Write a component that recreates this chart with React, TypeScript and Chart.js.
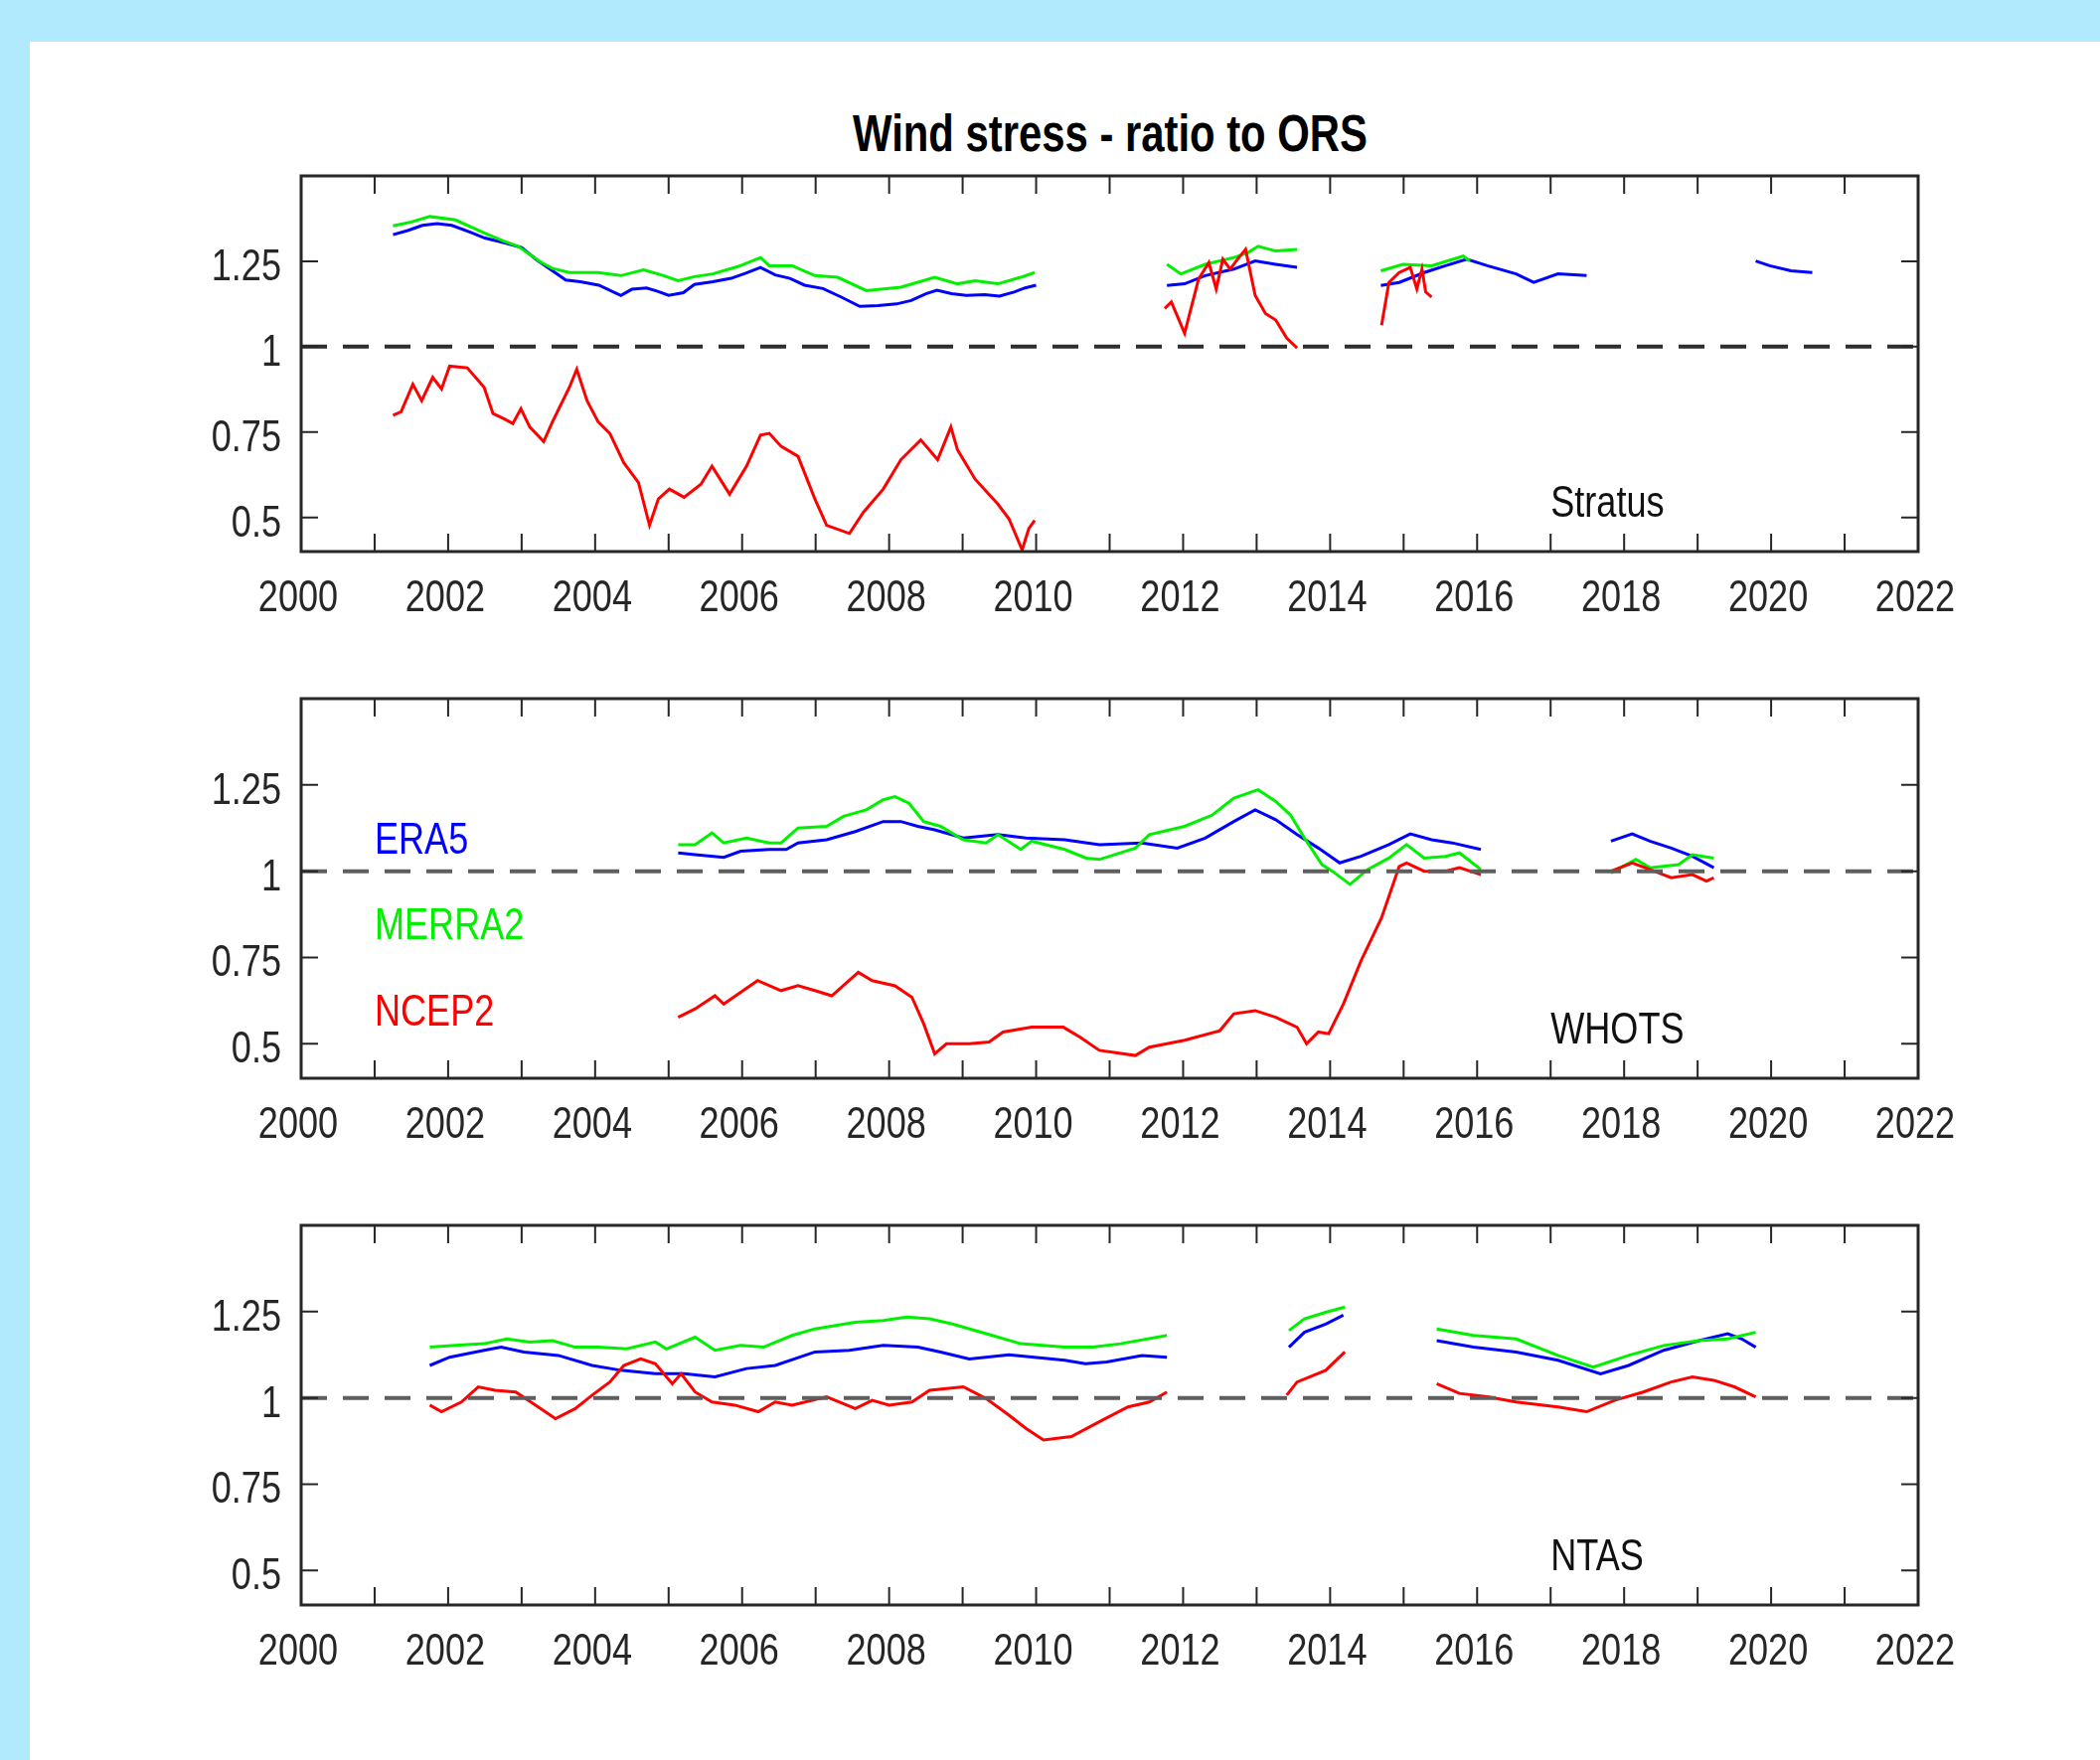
import React, { useEffect, useRef } from "react";
import { Chart, registerables } from "chart.js";

Chart.register(...registerables);

// ---------------- data ----------------
const TITLE = "Wind stress - ratio to ORS";
const SERIES_NAMES = ["ERA5", "MERRA2", "NCEP2"];
const PANEL_NAMES = ["Stratus", "WHOTS", "NTAS"];
const X_TICK_YEARS = Array.from({ length: 23 }, (_, i) => 2000 + i);
const X_LABEL_YEARS = [2000, 2002, 2004, 2006, 2008, 2010, 2012, 2014, 2016, 2018, 2020, 2022];
const Y_TICKS = [0.5, 0.75, 1, 1.25];
const Y_TICK_LABELS = ["0.5", "0.75", "1", "1.25"];
const REF_LINE = [[2000, 1], [2022, 1]];

type Seg = (number[] | null)[];

const STRATUS_ERA5: Seg = [
  [2001.25, 1.328], [2001.45, 1.34], [2001.65, 1.355], [2001.85, 1.36], [2002.05, 1.355], [2002.3, 1.335], [2002.5, 1.318],
  [2002.75, 1.305], [2003.0, 1.29], [2003.2, 1.255], [2003.4, 1.225], [2003.6, 1.195], [2003.8, 1.19], [2004.05, 1.18],
  [2004.2, 1.165], [2004.35, 1.15], [2004.5, 1.168], [2004.7, 1.172], [2004.85, 1.162], [2005.0, 1.15], [2005.2, 1.158],
  [2005.35, 1.182], [2005.6, 1.19], [2005.85, 1.2], [2006.05, 1.215], [2006.25, 1.232], [2006.45, 1.21], [2006.65, 1.2],
  [2006.85, 1.18], [2007.1, 1.17], [2007.35, 1.145], [2007.6, 1.118], [2007.85, 1.12], [2008.1, 1.125], [2008.3, 1.135],
  [2008.5, 1.155], [2008.65, 1.165], [2008.85, 1.155], [2009.05, 1.15], [2009.3, 1.152], [2009.5, 1.148], [2009.7, 1.16],
  [2009.85, 1.172], [2010.0, 1.18],
  null,
  [2011.78, 1.179], [2012.02, 1.184], [2012.3, 1.208], [2012.69, 1.227], [2012.98, 1.251], [2013.26, 1.241], [2013.55, 1.232],
  null,
  [2014.69, 1.179], [2014.94, 1.188], [2015.28, 1.217], [2015.57, 1.237], [2015.86, 1.256], [2016.14, 1.237], [2016.53, 1.213],
  [2016.77, 1.188], [2017.1, 1.213], [2017.49, 1.208],
  null,
  [2019.79, 1.251], [2019.98, 1.237], [2020.27, 1.222], [2020.56, 1.217],
];

const STRATUS_MERRA2: Seg = [
  [2001.25, 1.354], [2001.5, 1.365], [2001.75, 1.381], [2002.1, 1.371], [2002.49, 1.333], [2002.75, 1.31], [2002.95, 1.294],
  [2003.27, 1.246], [2003.42, 1.229], [2003.65, 1.217], [2004.04, 1.217], [2004.35, 1.208], [2004.66, 1.225], [2004.9, 1.21],
  [2005.13, 1.193], [2005.35, 1.205], [2005.6, 1.213], [2005.95, 1.235], [2006.25, 1.261], [2006.37, 1.237], [2006.68, 1.237],
  [2006.99, 1.208], [2007.3, 1.203], [2007.69, 1.164], [2008.16, 1.174], [2008.62, 1.203], [2008.93, 1.184], [2009.17, 1.193],
  [2009.48, 1.184], [2009.79, 1.203], [2009.98, 1.217],
  null,
  [2011.78, 1.241], [2011.97, 1.213], [2012.3, 1.241], [2012.69, 1.261], [2012.88, 1.275], [2013.02, 1.294], [2013.26, 1.28],
  [2013.55, 1.285],
  null,
  [2014.69, 1.222], [2014.99, 1.241], [2015.38, 1.237], [2015.81, 1.265], [2015.9, 1.251],
];

const STRATUS_NCEP2: Seg = [
  [2001.25, 0.799], [2001.36, 0.809], [2001.52, 0.89], [2001.64, 0.842], [2001.79, 0.91], [2001.91, 0.876], [2002.02, 0.943],
  [2002.26, 0.938], [2002.49, 0.881], [2002.61, 0.804], [2002.76, 0.789], [2002.88, 0.775], [2002.99, 0.818], [2003.11, 0.765],
  [2003.3, 0.722], [2003.42, 0.78], [2003.65, 0.881], [2003.75, 0.934], [2003.89, 0.842], [2004.04, 0.78], [2004.2, 0.746],
  [2004.39, 0.66], [2004.59, 0.602], [2004.74, 0.477], [2004.86, 0.554], [2005.01, 0.583], [2005.21, 0.559], [2005.44, 0.597],
  [2005.59, 0.65], [2005.83, 0.568], [2006.06, 0.65], [2006.25, 0.741], [2006.37, 0.746], [2006.53, 0.708], [2006.76, 0.679],
  [2006.99, 0.554], [2007.15, 0.477], [2007.46, 0.453], [2007.65, 0.515], [2007.92, 0.583], [2008.16, 0.669], [2008.43, 0.727],
  [2008.66, 0.669], [2008.84, 0.765], [2008.93, 0.698], [2009.17, 0.612], [2009.48, 0.539], [2009.63, 0.496], [2009.81, 0.405],
  [2009.9, 0.467], [2009.98, 0.491],
  null,
  [2011.75, 1.112], [2011.84, 1.131], [2012.02, 1.039], [2012.21, 1.198], [2012.35, 1.246], [2012.45, 1.169], [2012.54, 1.256],
  [2012.64, 1.227], [2012.74, 1.256], [2012.85, 1.285], [2012.98, 1.15], [2013.12, 1.097], [2013.26, 1.078], [2013.41, 1.025],
  [2013.55, 0.996],
  null,
  [2014.7, 1.063], [2014.8, 1.188], [2014.94, 1.217], [2015.09, 1.232], [2015.18, 1.169], [2015.25, 1.227], [2015.3, 1.16],
  [2015.38, 1.145],
];

const WHOTS_ERA5: Seg = [
  [2005.13, 1.053], [2005.36, 1.048], [2005.75, 1.04], [2005.98, 1.058], [2006.37, 1.063], [2006.6, 1.063], [2006.76, 1.082],
  [2007.15, 1.091], [2007.54, 1.115], [2007.92, 1.144], [2008.16, 1.144], [2008.39, 1.13], [2008.62, 1.12], [2009.01, 1.096],
  [2009.48, 1.106], [2009.86, 1.096], [2010.39, 1.091], [2010.86, 1.077], [2011.44, 1.082], [2011.92, 1.067], [2012.3, 1.096],
  [2012.69, 1.144], [2012.98, 1.178], [2013.26, 1.149], [2013.55, 1.106], [2013.84, 1.067], [2014.13, 1.024], [2014.42, 1.043],
  [2014.8, 1.077], [2015.09, 1.108], [2015.38, 1.091], [2015.66, 1.082], [2016.05, 1.063],
  null,
  [2017.82, 1.087], [2018.11, 1.108], [2018.35, 1.087], [2018.64, 1.067], [2018.93, 1.043], [2019.22, 1.01],
];

const WHOTS_MERRA2: Seg = [
  [2005.13, 1.077], [2005.36, 1.077], [2005.59, 1.111], [2005.75, 1.082], [2006.06, 1.096], [2006.37, 1.082], [2006.53, 1.082],
  [2006.76, 1.125], [2007.15, 1.13], [2007.38, 1.159], [2007.69, 1.178], [2007.92, 1.207], [2008.08, 1.216], [2008.27, 1.197],
  [2008.47, 1.144], [2008.7, 1.13], [2009.01, 1.091], [2009.32, 1.082], [2009.48, 1.106], [2009.79, 1.063], [2009.94, 1.087],
  [2010.39, 1.063], [2010.68, 1.038], [2010.86, 1.034], [2011.35, 1.067], [2011.54, 1.106], [2012.02, 1.13], [2012.4, 1.163],
  [2012.69, 1.212], [2013.02, 1.236], [2013.26, 1.202], [2013.46, 1.163], [2013.65, 1.096], [2013.89, 1.019], [2014.03, 1.0],
  [2014.27, 0.962], [2014.51, 1.005], [2014.8, 1.038], [2015.04, 1.077], [2015.28, 1.038], [2015.57, 1.043], [2015.76, 1.053],
  [2016.05, 1.005],
  null,
  [2017.82, 0.995], [2018.16, 1.034], [2018.35, 1.01], [2018.74, 1.019], [2018.93, 1.048], [2019.22, 1.038],
];

const WHOTS_NCEP2: Seg = [
  [2005.13, 0.577], [2005.36, 0.601], [2005.63, 0.639], [2005.75, 0.615], [2005.98, 0.649], [2006.21, 0.683], [2006.53, 0.654],
  [2006.76, 0.668], [2006.99, 0.654], [2007.22, 0.639], [2007.58, 0.707], [2007.77, 0.683], [2008.08, 0.668], [2008.31, 0.635],
  [2008.47, 0.558], [2008.62, 0.471], [2008.78, 0.5], [2009.09, 0.5], [2009.36, 0.505], [2009.55, 0.534], [2009.94, 0.548],
  [2010.37, 0.548], [2010.6, 0.519], [2010.86, 0.481], [2011.35, 0.466], [2011.54, 0.49], [2012.02, 0.51], [2012.5, 0.538],
  [2012.69, 0.587], [2012.98, 0.596], [2013.26, 0.577], [2013.55, 0.548], [2013.68, 0.5], [2013.84, 0.534], [2013.98, 0.529],
  [2014.18, 0.615], [2014.42, 0.74], [2014.7, 0.865], [2014.94, 1.014], [2015.04, 1.024], [2015.28, 1.0], [2015.57, 1.0],
  [2015.76, 1.01], [2016.05, 0.99],
  null,
  [2017.82, 1.0], [2018.11, 1.024], [2018.35, 1.005], [2018.64, 0.981], [2018.93, 0.99], [2019.12, 0.971], [2019.22, 0.981],
];

const NTAS_ERA5: Seg = [
  [2001.75, 1.094], [2002.02, 1.118], [2002.49, 1.138], [2002.72, 1.147], [2003.03, 1.133], [2003.5, 1.123], [2003.96, 1.094],
  [2004.35, 1.08], [2004.82, 1.07], [2005.21, 1.07], [2005.63, 1.061], [2006.06, 1.085], [2006.45, 1.094], [2006.99, 1.133],
  [2007.46, 1.138], [2007.92, 1.152], [2008.39, 1.147], [2008.7, 1.133], [2009.09, 1.113], [2009.63, 1.125], [2010.39, 1.109],
  [2010.67, 1.099], [2010.96, 1.104], [2011.44, 1.123], [2011.78, 1.118],
  null,
  [2013.44, 1.147], [2013.65, 1.19], [2013.94, 1.214], [2014.18, 1.24],
  null,
  [2015.45, 1.166], [2015.95, 1.147], [2016.53, 1.133], [2017.1, 1.109], [2017.68, 1.07], [2018.06, 1.094], [2018.54, 1.138],
  [2019.02, 1.166], [2019.41, 1.186], [2019.6, 1.171], [2019.79, 1.147],
];

const NTAS_MERRA2: Seg = [
  [2001.75, 1.147], [2002.1, 1.152], [2002.49, 1.157], [2002.8, 1.171], [2003.11, 1.162], [2003.42, 1.166], [2003.73, 1.147],
  [2004.04, 1.147], [2004.43, 1.142], [2004.82, 1.162], [2004.97, 1.142], [2005.36, 1.176], [2005.63, 1.138], [2005.98, 1.152],
  [2006.29, 1.147], [2006.68, 1.181], [2006.99, 1.2], [2007.54, 1.219], [2007.92, 1.224], [2008.24, 1.234], [2008.55, 1.229],
  [2008.86, 1.214], [2009.32, 1.186], [2009.79, 1.157], [2010.39, 1.147], [2010.77, 1.147], [2011.15, 1.157], [2011.78, 1.181],
  null,
  [2013.44, 1.195], [2013.65, 1.229], [2013.94, 1.248], [2014.2, 1.263],
  null,
  [2015.45, 1.2], [2015.95, 1.181], [2016.53, 1.171], [2017.1, 1.123], [2017.58, 1.089], [2018.06, 1.123], [2018.54, 1.152],
  [2019.02, 1.166], [2019.41, 1.171], [2019.79, 1.19],
];

const NTAS_NCEP2: Seg = [
  [2001.75, 0.979], [2001.91, 0.96], [2002.18, 0.988], [2002.41, 1.032], [2002.64, 1.022], [2002.92, 1.017], [2003.19, 0.979],
  [2003.46, 0.94], [2003.73, 0.969], [2003.96, 1.008], [2004.2, 1.046], [2004.39, 1.094], [2004.62, 1.113], [2004.82, 1.099],
  [2005.05, 1.041], [2005.17, 1.07], [2005.36, 1.017], [2005.59, 0.988], [2005.9, 0.979], [2006.22, 0.96], [2006.45, 0.988],
  [2006.68, 0.979], [2007.15, 1.003], [2007.54, 0.969], [2007.77, 0.993], [2008.0, 0.979], [2008.31, 0.988], [2008.55, 1.022],
  [2009.01, 1.032], [2009.32, 0.998], [2009.63, 0.95], [2009.86, 0.912], [2010.1, 0.878], [2010.48, 0.888], [2010.86, 0.931],
  [2011.25, 0.974], [2011.54, 0.988], [2011.78, 1.017],
  null,
  [2013.41, 1.008], [2013.55, 1.046], [2013.94, 1.08], [2014.2, 1.133],
  null,
  [2015.45, 1.041], [2015.76, 1.013], [2016.14, 1.003], [2016.53, 0.988], [2017.1, 0.974], [2017.49, 0.96], [2017.87, 0.993],
  [2018.26, 1.017], [2018.64, 1.046], [2018.93, 1.061], [2019.22, 1.051], [2019.5, 1.032], [2019.79, 1.003],
];

const PANEL_SERIES: Seg[][] = [
  [STRATUS_ERA5, STRATUS_MERRA2, STRATUS_NCEP2],
  [WHOTS_ERA5, WHOTS_MERRA2, WHOTS_NCEP2],
  [NTAS_ERA5, NTAS_MERRA2, NTAS_NCEP2],
];

// text anchors (data coords)
const PANEL_LABEL_AT = [2017, 0.55];
const LEGEND_X = 2001;
const LEGEND_Y = [1.1, 0.85, 0.6];

// ---------------- styling / layout ----------------
const FONT = "'Liberation Sans', Arial, sans-serif";
const NARROW = 0.82;
const FONT_SIZE = 44;
const CAP_H = 31.5;
const COLORS = ["#0000ff", "#00f000", "#ff0000"];
const DASH_COLORS = ["#2e2e2e", "#5e5e5e", "#5e5e5e"];
const TEXT_COLOR = "#262626";
const PANEL_BOX = [
  [177, 555],
  [703, 1085],
  [1233, 1615],
];
const PLOT_LEFT = 303;
const PLOT_RIGHT = 1930;
const PAGE_W = 2113;
const PAGE_H = 1771;
const PAD_TOP = 40;
const X_AXIS_H = 100;

function toPoints(seg: Seg) {
  const out: { x: number; y: number | null }[] = [];
  let lastX = 2000;
  for (const p of seg) {
    if (p === null) out.push({ x: lastX + 0.001, y: null });
    else {
      out.push({ x: p[0], y: p[1] });
      lastX = p[0];
    }
  }
  return out;
}

function narrowText(ctx: CanvasRenderingContext2D, text: string, x: number, y: number, align: CanvasTextAlign, color: string) {
  ctx.save();
  ctx.translate(x, y);
  ctx.scale(NARROW, 1);
  ctx.font = `${FONT_SIZE}px ${FONT}`;
  ctx.textAlign = align;
  ctx.textBaseline = "alphabetic";
  ctx.fillStyle = color;
  ctx.fillText(text, 0, 0);
  ctx.restore();
}

const framePlugin = {
  id: "axesFrame",
  afterDatasetsDraw(chart: any) {
    const opts = chart.options.plugins.axesFrame;
    const { ctx, chartArea: a } = chart;
    const xs = chart.scales.x;
    const ys = chart.scales.y;
    ctx.save();
    ctx.strokeStyle = TEXT_COLOR;
    ctx.lineWidth = 2;
    ctx.beginPath();
    const TL = 18;
    for (const yr of X_TICK_YEARS) {
      const px = xs.getPixelForValue(yr);
      ctx.moveTo(px, a.bottom);
      ctx.lineTo(px, a.bottom - TL);
      ctx.moveTo(px, a.top);
      ctx.lineTo(px, a.top + TL);
    }
    for (const v of Y_TICKS) {
      const py = ys.getPixelForValue(v);
      ctx.moveTo(a.left, py);
      ctx.lineTo(a.left + 17, py);
      ctx.moveTo(a.right, py);
      ctx.lineTo(a.right - 17, py);
    }
    ctx.stroke();
    ctx.lineWidth = 3;
    ctx.strokeRect(a.left, a.top, a.right - a.left, a.bottom - a.top);
    ctx.restore();

    // tick labels
    X_LABEL_YEARS.forEach((yr) => {
      narrowText(ctx, String(yr), xs.getPixelForValue(yr) - 3, a.bottom + 60, "center", TEXT_COLOR);
    });
    Y_TICKS.forEach((v, i) => {
      narrowText(ctx, Y_TICK_LABELS[i], a.left - 20, ys.getPixelForValue(v) + 19, "right", TEXT_COLOR);
    });
    // in-axes texts
    for (const t of opts.texts) {
      narrowText(ctx, t.text, xs.getPixelForValue(t.x), ys.getPixelForValue(t.y) + CAP_H / 2 + 1, "left", t.color);
    }
  },
};

function Panel({ index }: { index: number }) {
  const ref = useRef<HTMLCanvasElement | null>(null);
  const [top, bottom] = PANEL_BOX[index];
  const height = bottom - top + PAD_TOP + X_AXIS_H;

  useEffect(() => {
    const canvas = ref.current;
    if (!canvas) return;
    const series = PANEL_SERIES[index];
    const texts: any[] = [
      { x: PANEL_LABEL_AT[0], y: PANEL_LABEL_AT[1], text: PANEL_NAMES[index], color: "#111111" },
    ];
    if (index === 1) {
      SERIES_NAMES.forEach((n, i) => texts.push({ x: LEGEND_X, y: LEGEND_Y[i], text: n, color: COLORS[i] }));
    }
    const datasets: any[] = [
      {
        label: "ref",
        data: REF_LINE.map(([x, y]) => ({ x, y })),
        borderColor: DASH_COLORS[index],
        borderWidth: 4,
        borderDash: [26, 16],
        pointRadius: 0,
        order: 0,
      },
    ];
    [2, 1, 0].forEach((i) => {
      datasets.push({
        label: SERIES_NAMES[i],
        data: toPoints(series[i]),
        borderColor: COLORS[i],
        borderWidth: 3,
        pointRadius: 0,
        spanGaps: false,
        tension: 0,
        order: 3 - i,
      });
    });

    const chart = new Chart(canvas, {
      type: "line",
      data: { datasets },
      options: {
        responsive: false,
        animation: false,
        events: [],
        layout: { padding: { top: PAD_TOP, right: PAGE_W - PLOT_RIGHT, bottom: 0, left: 0 } },
        plugins: {
          legend: { display: false },
          tooltip: { enabled: false },
          title: { display: false },
          axesFrame: { texts },
        } as any,
        scales: {
          x: {
            type: "linear",
            min: 2000,
            max: 2022,
            grid: { display: false },
            border: { display: false },
            afterBuildTicks: (s: any) => {
              s.ticks = X_LABEL_YEARS.map((v) => ({ value: v }));
            },
            afterFit: (s: any) => {
              s.height = X_AXIS_H;
            },
            ticks: { display: false },
          },
          y: {
            type: "linear",
            min: 0.4,
            max: 1.5,
            grid: { display: false },
            border: { display: false },
            afterBuildTicks: (s: any) => {
              s.ticks = Y_TICKS.map((v) => ({ value: v }));
            },
            afterFit: (s: any) => {
              s.width = PLOT_LEFT;
            },
            ticks: { display: false },
          },
        },
      },
      plugins: [framePlugin],
    });
    return () => chart.destroy();
  }, [index]);

  return (
    <canvas
      ref={ref}
      width={PAGE_W}
      height={height}
      style={{ position: "absolute", left: 0, top: top - PAD_TOP, width: PAGE_W, height }}
    />
  );
}

export default function App() {
  useEffect(() => {
    document.body.style.overflow = "hidden";
  }, []);
  return (
    <div
      style={{
        position: "absolute",
        left: 0,
        top: 0,
        width: PAGE_W,
        height: PAGE_H,
        background: "#b1eafd",
        overflow: "hidden",
      }}
    >
      <div style={{ position: "absolute", left: 30, top: 42, right: 0, bottom: 0, background: "#ffffff" }} />
      <div
        style={{
          position: "absolute",
          left: (PLOT_LEFT + PLOT_RIGHT) / 2 - 600,
          width: 1200,
          top: 109,
          textAlign: "center",
          fontFamily: FONT,
          fontWeight: "bold",
          fontSize: 51,
          lineHeight: "51px",
          color: "#000",
          whiteSpace: "nowrap",
          transform: `scaleX(${NARROW})`,
        }}
      >
        {TITLE}
      </div>
      {[0, 1, 2].map((i) => (
        <Panel key={i} index={i} />
      ))}
    </div>
  );
}
